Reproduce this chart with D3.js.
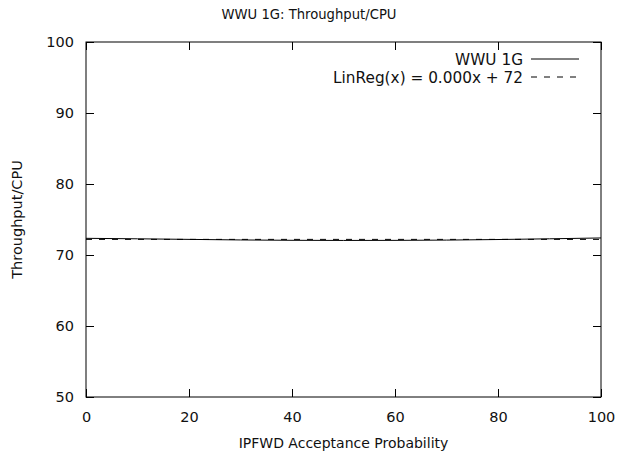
<!DOCTYPE html>
<html>
<head>
<meta charset="utf-8">
<script src="https://cdn.jsdelivr.net/npm/d3@7"></script>
<style>
  body { margin: 0; background: #fff; }
  text { font-family: "DejaVu Sans", sans-serif; font-size: 14.5px; fill: #111; }
</style>
</head>
<body>
<svg id="chart"></svg>
<script>
// data
const probability = [0, 10, 20, 30, 40, 50, 60, 70, 80, 90, 100];
const throughputPerCpu = [72.35, 72.28, 72.2, 72.12, 72.07, 72.05, 72.06, 72.1, 72.18, 72.28, 72.4];
const regSlope = 0.0;
const regIntercept = 72.2;
const xTicks = [0, 20, 40, 60, 80, 100];
const yTicks = [50, 60, 70, 80, 90, 100];
const seriesLabels = ['WWU 1G', 'LinReg(x) = 0.000x + 72'];

const svgWidth = 618;
const svgHeight = 455;
const margin = { top: 42, right: 17, bottom: 58, left: 86 };

const svg = d3.select('#chart')
    .attr('width', svgWidth)
    .attr('height', svgHeight);

const xScale = d3.scaleLinear()
    .domain([0, 100])
    .range([margin.left, svgWidth - margin.right]);

const yScale = d3.scaleLinear()
    .domain([50, 100])
    .range([svgHeight - margin.bottom, margin.top]);

const tickLen = 8;

// axes, ticks pointing inward, mirrored on the opposite side
svg.append('g')
    .attr('transform', `translate(0, ${yScale(50)})`)
    .call(d3.axisBottom(xScale).tickValues(xTicks).tickSize(-tickLen).tickPadding(15))
    .call(g => g.select('.domain').remove());

svg.append('g')
    .attr('transform', `translate(0, ${yScale(100)})`)
    .call(d3.axisTop(xScale).tickValues(xTicks).tickSize(-tickLen).tickFormat(''))
    .call(g => g.select('.domain').remove());

svg.append('g')
    .attr('transform', `translate(${xScale(0)}, 0)`)
    .call(d3.axisLeft(yScale).tickValues(yTicks).tickSize(-tickLen).tickPadding(12))
    .call(g => g.select('.domain').remove());

svg.append('g')
    .attr('transform', `translate(${xScale(100)}, 0)`)
    .call(d3.axisRight(yScale).tickValues(yTicks).tickSize(-tickLen).tickFormat(''))
    .call(g => g.select('.domain').remove());

svg.selectAll('.tick text')
    .style('font-family', '"DejaVu Sans", sans-serif')
    .style('font-size', '14.5px')
    .attr('fill', '#111');

// frame
svg.append('rect')
    .attr('x', xScale(0))
    .attr('y', yScale(100))
    .attr('width', xScale(100) - xScale(0))
    .attr('height', yScale(50) - yScale(100))
    .attr('fill', 'none')
    .attr('stroke', '#000')
    .attr('stroke-width', 1);

// data line
const line = d3.line()
    .x((d, i) => xScale(probability[i]))
    .y(d => yScale(d));

svg.append('path')
    .datum(throughputPerCpu)
    .attr('fill', 'none')
    .attr('stroke', '#000')
    .attr('stroke-width', 1)
    .attr('d', line);

// regression line
const regLine = d3.line()
    .x(d => xScale(d))
    .y(d => yScale(regSlope * d + regIntercept));

svg.append('path')
    .datum([0, 100])
    .attr('fill', 'none')
    .attr('stroke', '#000')
    .attr('stroke-width', 1)
    .attr('stroke-dasharray', '6,7')
    .attr('d', regLine);

// legend
const legend = svg.append('g');
seriesLabels.forEach((label, i) => {
    const y = 59 + i * 18;
    legend.append('text')
        .attr('x', 523)
        .attr('y', y)
        .attr('dy', '0.36em')
        .attr('text-anchor', 'end')
        .style('font-size', '15.3px')
        .text(label);
    legend.append('line')
        .attr('x1', 531)
        .attr('x2', 579)
        .attr('y1', y)
        .attr('y2', y)
        .attr('stroke', '#000')
        .attr('stroke-dasharray', i === 1 ? '6,7' : null);
});

// titles
svg.append('text')
    .attr('x', 309)
    .attr('y', 19)
    .attr('text-anchor', 'middle')
    .style('font-size', '13.2px')
    .text('WWU 1G: Throughput/CPU');

svg.append('text')
    .attr('x', (xScale(0) + xScale(100)) / 2)
    .attr('y', 448)
    .attr('text-anchor', 'middle')
    .style('font-size', '14px')
    .text('IPFWD Acceptance Probability');

svg.append('text')
    .attr('transform', `translate(22, ${(yScale(50) + yScale(100)) / 2}) rotate(-90)`)
    .attr('text-anchor', 'middle')
    .text('Throughput/CPU');
</script>
</body>
</html>
